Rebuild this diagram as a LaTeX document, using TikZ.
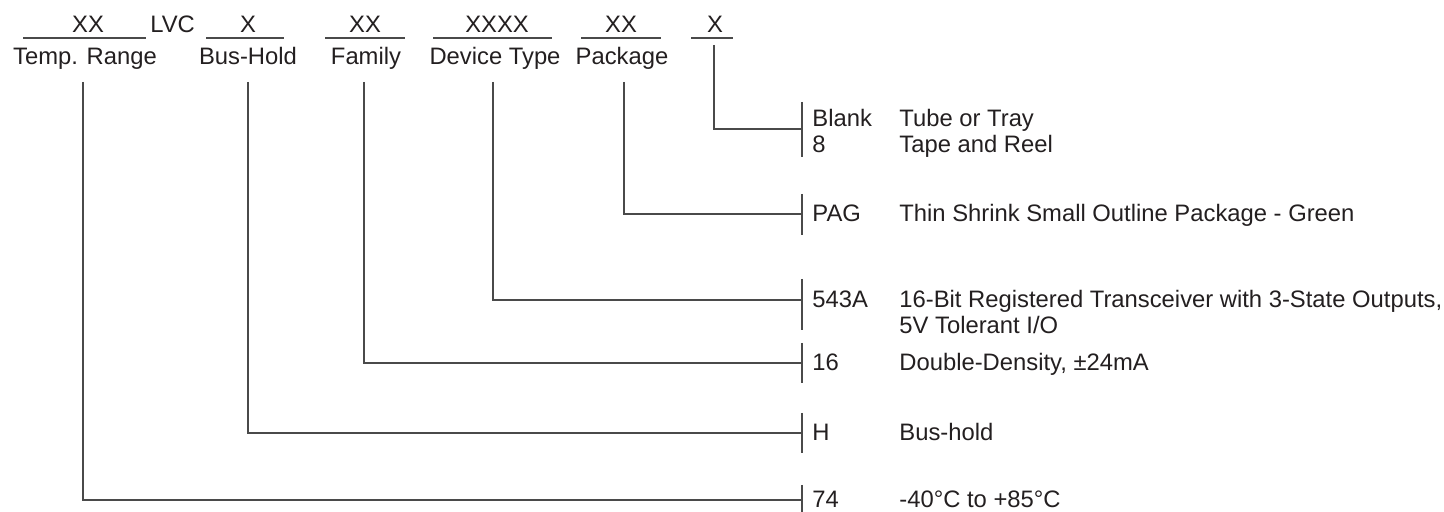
\documentclass[tikz,border=0pt]{standalone}
\usepackage{fontspec}
\setmainfont{Liberation Sans}
\usetikzlibrary{positioning, calc}
\definecolor{inkcolor}{HTML}{231F20}
\definecolor{rulecolor}{HTML}{4A4A4A}

\begin{document}
\begin{tikzpicture}[
    x=0.5pt, y=-0.5pt,
    field/.style={inner sep=0pt, anchor=base, text=inkcolor,
        font=\fontsize{11.9}{13}\selectfont},
    code/.style={field, anchor=base west},
    rule/.style={draw=rulecolor, line width=0.55pt},
]
\useasboundingbox (0,0) rectangle (1444,512);

% --- Part number fields ---
\foreach \name/\txt/\cx/\xa/\xb in {trv/XX/88/23/146, bhv/X/248/206/284,
    famv/XX/365/325/405, devv/XXXX/497/433/552, pkgv/XX/621/581/661,
    optv/X/715/691/733} {
    \node[field] (\name) at (\cx,33) {\txt};
    \draw[rule] (\xa,38) -- (\xb,38);
}
\node[code] (lvc) at (150,33) {LVC};

% Field captions
\node[field] (trcap)  at (85,65)  {Temp. Range};
\node[field] (bhcap)  at (248,65) {Bus-Hold};
\node[field] (famcap) at (366,65) {Family};
\node[field] (devcap) at (495,65) {Device Type};
\node[field] (pkgcap) at (622,65) {Package};

% --- Leaders from fields to code brackets ---
\coordinate (src-opt) at (714,45);
\coordinate (src-pag) at (624,82);
\coordinate (src-dev) at (493,82);
\coordinate (src-fam) at (364,82);
\coordinate (src-bh)  at (248,82);
\coordinate (src-tr)  at (83,82);

\foreach \id/\y in {opt/129, pag/214, dev/300, fam/363, bh/433, tr/500} {
    \coordinate (br-\id) at (802,\y);
    \draw[rule] (src-\id) |- (br-\id);
}

% Brackets
\draw[rule] ($(br-opt)+(0,-27)$) -- ($(br-opt)+(0,28)$);
\draw[rule] ($(br-pag)+(0,-20)$) -- ($(br-pag)+(0,21)$);
\draw[rule] ($(br-dev)+(0,-21)$) -- ($(br-dev)+(0,30)$);
\draw[rule] ($(br-fam)+(0,-20)$) -- ($(br-fam)+(0,20)$);
\draw[rule] ($(br-bh)+(0,-20)$)  -- ($(br-bh)+(0,20)$);
\draw[rule] ($(br-tr)+(0,-15)$)  -- ($(br-tr)+(0,12)$);

% --- Codes and descriptions ---
\node[code] (blank)   at (812,127) {Blank};
\node[code] (tube)    at (899,127) {Tube or Tray};
\node[code] (eight)   at (812,153) {8};
\node[code] (reel)    at (899,153) {Tape and Reel};

\node[code] (pag)     at (812,222) {PAG};
\node[code] (pagdesc) at (899,222) {Thin Shrink Small Outline Package - Green};

\node[code] (dev)     at (812,308) {543A};
\node[code] (devdesc) at (899,308) {16-Bit Registered Transceiver with 3-State Outputs,};
\node[code] (devmore) at (899,334) {5V Tolerant I/O};

\node[code] (fam)     at (812,371) {16};
\node[code] (famdesc) at (899,371) {Double-Density, ±24mA};

\node[code] (bh)      at (812,441) {H};
\node[code] (bhdesc)  at (899,441) {Bus-hold};

\node[code] (tr)      at (812,508) {74};
\node[code] (trdesc)  at (899,508) {-40°C to +85°C};

\end{tikzpicture}
\end{document}
